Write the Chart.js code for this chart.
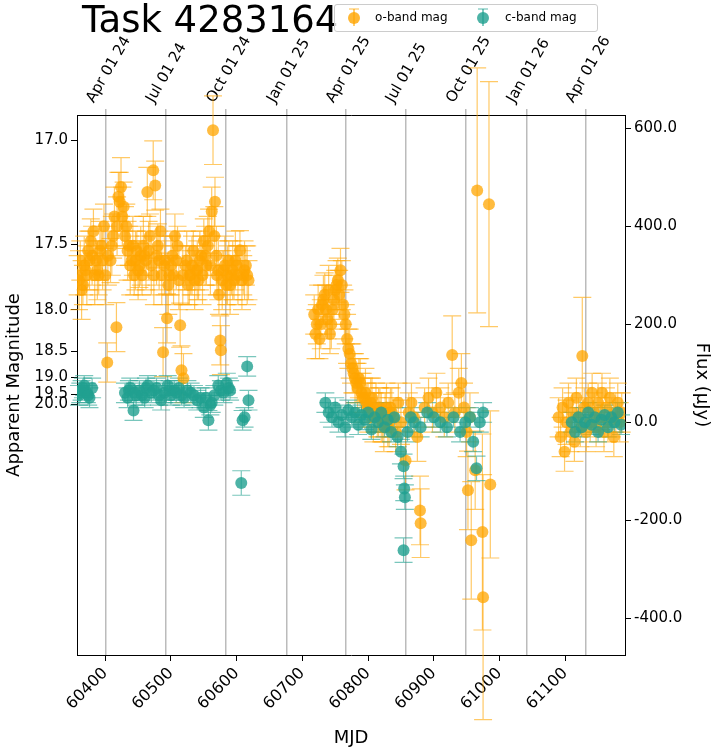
<!DOCTYPE html>
<html><head><meta charset="utf-8">
<script src="https://cdn.jsdelivr.net/npm/chart.js@4/dist/chart.umd.min.js"></script>
<style>
body{margin:0;background:#fff;font-family:"DejaVu Sans",sans-serif;}
#wrap{position:relative;width:716px;height:753px;}
#title{position:absolute;left:82px;top:-2px;font-size:37px;color:#000;}
#legend{position:absolute;left:334px;top:4px;width:262px;height:26px;border:1px solid #ccc;border-radius:3px;background:rgba(255,255,255,0.8);font-size:12px;}
.li{position:absolute;top:5px;}
.mk{position:absolute;top:-2px;width:30px;height:18px;}
</style></head><body>
<div id="wrap">
<canvas id="c" width="716" height="753"></canvas>
<div id="title">Task 4283164</div>
<div id="legend">
 <svg class="mk" style="left:4px;top:3px" width="30" height="20"><line x1="15" y1="1" x2="15" y2="19" stroke="rgba(255,165,0,0.75)" stroke-width="1.5"/><line x1="10" y1="1" x2="20" y2="1" stroke="rgba(255,165,0,0.75)"/><line x1="10" y1="19" x2="20" y2="19" stroke="rgba(255,165,0,0.75)"/><circle cx="15" cy="10" r="6" fill="rgba(255,165,0,0.8)"/></svg>
 <span class="li" style="left:40px">o-band mag</span>
 <svg class="mk" style="left:133px;top:3px" width="30" height="20"><line x1="15" y1="1" x2="15" y2="19" stroke="rgba(32,160,144,0.75)" stroke-width="1.5"/><line x1="10" y1="1" x2="20" y2="1" stroke="rgba(32,160,144,0.75)"/><line x1="10" y1="19" x2="20" y2="19" stroke="rgba(32,160,144,0.75)"/><circle cx="15" cy="10" r="6" fill="rgba(32,160,144,0.8)"/></svg>
 <span class="li" style="left:170px">c-band mag</span>
</div>
</div>
<script>
const oMjd=[60358,60362,60366,60370,60374,60378,60382,60386,60390,60394,60398,60403,60408,60412,60417,60420,60424,60428,60432,60436,60440,60444,60448,60452,60456,60460,60464,60468,60473,60476,60480,60484,60488,60491,60494,60498,60502,60506,60510,60514,60516,60519,60522,60526,60530,60534,60538,60542,60546,60550,60554,60558,60562,60564,60567,60570,60573,60575,60576,60580,60584,60588,60592,60596,60600,60605,60610,60614,60618,
60718,60722,60726,60730,60734,60738,60742,60746,60750,60754,60758,60762,60766,60770,60774,60778,60782,60786,60790,60794,60798,60802,60806,60810,60814,60818,60822,60826,60830,60834,60838,60842,60846,60850,60857,60862,60866,60870,60875,60879,60880,60886,60892,60898,60904,60910,60916,60922,60928,60932,60938,60942,60946,60950,60952,60955,60957,60963,60966,60974,60975,60984,60986,
61090,61093,61096,61099,61102,61105,61108,61111,61114,61117,61120,61123,61126,61129,61132,61135,61138,61141,61144,61147,61150,61153,61156,61159,61162,61165,61168,61171,61174,61177,61180,61183,61186];
const oFlux=[300,330,280,310,350,370,390,330,300,360,400,122,330,380,194,460,480,440,400,360,330,300,350,320,300,340,470,380,514,483,360,390,143,330,212,300,340,380,360,198,106,90,320,280,300,350,310,290,340,370,320,390,430,596,450,300,260,167,147,310,280,330,300,290,320,351,300,320,290,
220,200,170,240,260,210,180,230,270,290,310,240,200,150,120,100,80,90,60,50,40,30,50,20,10,30,0,20,-10,30,10,-20,40,0,-78,20,40,10,-30,-180,-206,30,50,20,60,30,10,40,137,20,60,80,30,-20,-139,10,-241,-98,473,-224,-357,445,-127,
10,-30,30,-60,0,40,-20,20,-40,50,10,-10,135,30,-20,40,0,60,20,-10,40,10,60,-20,30,0,50,10,-30,20,40,0,20];
const oErr=[40,40,40,40,40,45,45,40,40,40,45,40,45,45,50,50,60,50,45,40,40,40,40,45,40,40,50,45,60,50,45,45,50,40,50,40,40,45,40,45,50,50,40,40,40,40,40,40,40,45,40,45,50,70,50,40,40,50,50,40,40,40,40,40,40,40,40,40,40,
40,40,40,40,45,40,40,40,40,45,45,40,40,40,40,40,40,40,40,40,40,40,40,40,40,40,40,40,40,40,40,40,40,45,60,40,40,40,50,70,70,40,40,40,40,40,40,40,80,40,50,60,50,50,80,50,120,80,250,200,250,250,150,
40,40,40,40,45,40,40,40,40,40,40,40,120,40,40,40,40,40,40,40,40,40,40,40,40,40,40,40,40,40,40,40,40];
// extra o-band epochs (denser coverage)
const oMjd2=[60360,60364,60368,60372,60376,60380,60384,60388,60392,60396,60400,60404,60410,60414,60418,60422,60426,60430,60434,60438,60442,60446,60450,60454,60458,60462,60466,60470,60474,60478,60482,60486,60490,60496,60500,60504,60508,60512,60518,60524,60528,60532,60536,60540,60544,60548,60552,60556,60560,60566,60569,60572,60578,60582,60586,60590,60594,60598,60602,60608,60612,60616,
60720,60724,60728,60732,60736,60740,60744,60748,60752,60756,60760,60764,60768,60772,60776,60780,60784,60788,60792,60796,60800,60804,60808,60812,60816,60820,60824,60828,60832,60836];
const oFlux2=[290,270,320,300,330,340,300,310,350,330,300,340,360,420,400,450,420,380,350,320,360,330,310,340,360,330,350,320,300,340,330,300,320,280,320,300,330,290,300,330,300,320,290,310,330,300,340,360,320,380,340,310,290,320,300,280,310,330,300,290,310,300,
180,230,200,250,230,270,200,250,280,260,280,220,170,140,110,90,70,80,50,60,30,40,10,30,20,10,-10,30,0,20];
const oErr2=oMjd2.map(m=>m<60700?60:50);
const cMjd=[60360,60364,60368,60372,60376,60380,60430,60434,60438,60443,60447,60452,60460,60465,60470,60478,60485,60490,60495,60500,60505,60512,60520,60530,60540,60550,60553,60557,60562,60566,60572,60580,60585,60590,60609,60612,60616,60618,60607,
60735,60740,60745,60750,60755,60760,60765,60770,60775,60780,60785,60790,60795,60800,60805,60810,60815,60820,60825,60830,60835,60840,60845,60850,60854,60855,60856,60854,60860,60865,60870,60880,60890,60900,60910,60920,60930,60940,60948,60955,60960,60965,60970,60975,
61110,61115,61120,61125,61130,61135,61140,61145,61150,61155,61160,61165,61170,61175,61180,61185,
60362,60366,60374,60436,60445,60456,60462,60474,60482,60498,60508,60516,60525,60535,60545,60560,60576,60588];
const cFlux=[55,65,75,60,50,70,60,50,70,24,55,65,50,75,60,70,45,60,75,55,65,70,50,60,45,30,50,4,40,55,75,60,80,65,4,10,114,45,-124,
40,20,10,30,0,15,-10,25,10,20,-5,15,5,20,-15,10,0,20,-10,5,-20,10,-30,-60,-90,-135,-153,-261,-20,10,0,-10,20,10,0,-10,10,-20,0,10,-40,-94,0,20,
0,-20,10,-10,0,20,-5,10,-20,5,15,-10,10,0,20,-5,
60,70,55,65,60,55,70,65,55,65,60,55,65,55,50,35,65,70];
const cErr=cMjd.map((_,i)=>cFlux[i]<-50?25:20);
const magTicks=[17.0,17.5,18.0,18.5,19.0,19.5,20.0];
const dateTicks=[60401,60492,60584,60676,60766,60857,60949,61041,61131];
const dateLabels=["Apr 01 24","Jul 01 24","Oct 01 24","Jan 01 25","Apr 01 25","Jul 01 25","Oct 01 25","Jan 01 26","Apr 01 26"];

const allOM=oMjd.concat(oMjd2), allOF=oFlux.concat(oFlux2), allOE=oErr.concat(oErr2);
const ORG='rgba(255,165,0,0.75)', TEAL='rgba(32,160,144,0.8)';
const F="DejaVu Sans";
const errPlugin={id:'err',beforeDatasetsDraw(ch){
 const ctx=ch.ctx,x=ch.scales.x,y=ch.scales.y;
 ctx.save();
 [[allOM,allOF,allOE,'rgba(255,165,0,0.6)'],[cMjd,cFlux,cErr,'rgba(32,160,144,0.6)']].forEach(([m,f,e,col])=>{
  ctx.strokeStyle=col;ctx.lineWidth=1.2;
  for(let i=0;i<m.length;i++){
   const px=x.getPixelForValue(m[i]),p1=y.getPixelForValue(f[i]-e[i]),p2=y.getPixelForValue(f[i]+e[i]);
   ctx.beginPath();ctx.moveTo(px,p1);ctx.lineTo(px,p2);
   ctx.moveTo(px-9,p1);ctx.lineTo(px+9,p1);ctx.moveTo(px-9,p2);ctx.lineTo(px+9,p2);ctx.stroke();
  }});
 ctx.restore();}};
new Chart(document.getElementById('c'),{
 type:'scatter',
 data:{datasets:[
  {label:'o-band mag',data:allOM.map((m,i)=>({x:m,y:allOF[i]})),backgroundColor:ORG,borderWidth:0,pointRadius:6,order:2},
  {label:'c-band mag',data:cMjd.map((m,i)=>({x:m,y:cFlux[i]})),backgroundColor:TEAL,borderWidth:0,pointRadius:6,order:1}]},
 plugins:[errPlugin],
 options:{responsive:false,animation:false,
  layout:{padding:0},
  plugins:{legend:{display:false},tooltip:{enabled:false}},
  scales:{
   x:{type:'linear',position:'bottom',min:60357,max:61191,
     afterBuildTicks(s){s.ticks=[60400,60500,60600,60700,60800,60900,61000,61100].map(v=>({value:v}));},
     afterFit(s){s.height=98;},
     ticks:{font:{family:F,size:16},color:'#000',minRotation:45,maxRotation:45,callback:v=>String(v)},
     grid:{drawOnChartArea:false,drawTicks:true,tickLength:6,color:'#000'},border:{color:'#000'},
     title:{display:true,text:'MJD',font:{family:F,size:18},color:'#000',padding:{top:0}}},
   xt:{type:'linear',position:'top',min:60357,max:61191,
     afterBuildTicks(s){s.ticks=dateTicks.map(v=>({value:v}));},
     afterFit(s){s.height=115;},
     ticks:{font:{family:F,size:15},color:'#000',minRotation:60,maxRotation:60,
       callback:(v)=>{const i=dateTicks.indexOf(v);return i>=0?dateLabels[i]:'';}},
     grid:{drawOnChartArea:true,color:'#bbb',lineWidth:1.5,drawTicks:true,tickLength:6},border:{color:'#000'}},
   y:{type:'linear',position:'right',min:-475,max:627,
     afterBuildTicks(s){s.ticks=[-400,-200,0,200,400,600].map(v=>({value:v}));},
     afterFit(s){s.width=91;},
     ticks:{font:{family:F,size:15},color:'#000',callback:v=>v.toFixed(1)},
     grid:{drawOnChartArea:false,drawTicks:true,tickLength:6,color:'#000'},border:{color:'#000'},
     title:{display:true,text:'Flux (μJy)',font:{family:F,size:18},color:'#000'}},
   yl:{type:'linear',position:'left',min:-475,max:627,
     afterBuildTicks(s){s.ticks=magTicks.map(m=>({value:Math.pow(10,(23.9-m)/2.5)}));},
     afterFit(s){s.width=77;},
     ticks:{font:{family:F,size:15},color:'#000',autoSkip:false,
       callback:(v)=>{const m=23.9-2.5*Math.log10(v);return m.toFixed(1);}},
     grid:{drawOnChartArea:false,drawTicks:true,tickLength:6,color:'#000'},border:{color:'#000'},
     title:{display:true,text:'Apparent Magnitude',font:{family:F,size:18},color:'#000'}}
  }}
});
</script></body></html>
